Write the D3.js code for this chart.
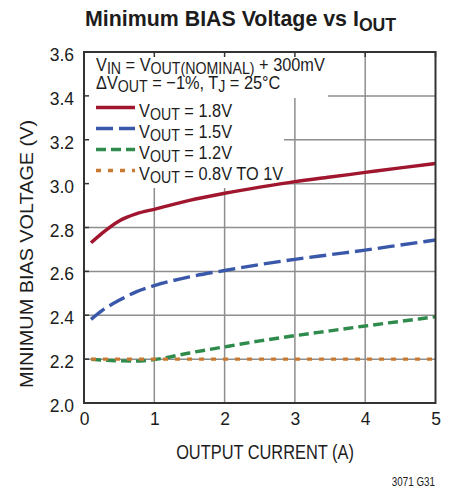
<!DOCTYPE html>
<html>
<head>
<meta charset="utf-8">
<script src="https://cdn.jsdelivr.net/npm/d3@7"></script>
<style>
  body { margin: 0; background: #fff; }
  svg { display: block; }
</style>
</head>
<body>
<svg id="chart" width="467" height="489"></svg>
<script>
// Output current (A) at which each bias voltage was read
const current = [0.1, 0.25, 0.5, 0.75, 1, 1.5, 2, 2.5, 3, 3.5, 4, 4.5, 5];
// Minimum bias voltage (V) for each output voltage setting
const vout18 = [2.73, 2.772, 2.83, 2.863, 2.883, 2.924, 2.956, 2.984, 3.009, 3.03, 3.051, 3.072, 3.092];
const vout15 = [2.381, 2.42, 2.468, 2.508, 2.535, 2.575, 2.604, 2.631, 2.655, 2.676, 2.697, 2.72, 2.743];
const vout12 = [2.199, 2.196, 2.192, 2.191, 2.198, 2.228, 2.256, 2.283, 2.307, 2.329, 2.351, 2.372, 2.393];
const vout08 = [2.2, 2.2, 2.2, 2.2, 2.2, 2.2, 2.2, 2.2, 2.2, 2.2, 2.2, 2.2, 2.2];

const seriesLabels = ["1.8V", "1.5V", "1.2V", "0.8V TO 1V"];
const xTicks = [0, 1, 2, 3, 4, 5];
const yTicks = [2.0, 2.2, 2.4, 2.6, 2.8, 3.0, 3.2, 3.4, 3.6];

const styles = [
  { color: "#a1162f", dash: null },
  { color: "#3a58aa", dash: "17,6" },
  { color: "#2f8b4c", dash: "10,5" },
  { color: "#c97a30", dash: "5,7" }
];
const seriesValues = [vout18, vout15, vout12, vout08];

const svg = d3.select("#chart");
const plotL = 84, plotR = 435.5, plotT = 52, plotB = 403;

const x = d3.scaleLinear().domain([0, 5]).range([plotL, plotR]);
const y = d3.scaleLinear().domain([2.0, 3.6]).range([plotB, plotT]);

const sans = "'Liberation Sans', Arial, sans-serif";
const ink = "#1c1c1c";

// Grid
const grid = svg.append("g").attr("stroke", "#8e8e8e").attr("stroke-width", 1.5);
grid.selectAll("line.h").data(yTicks.slice(1, -1)).join("line")
  .attr("x1", plotL).attr("x2", plotR)
  .attr("y1", d => y(d)).attr("y2", d => y(d));
grid.selectAll("line.v").data(xTicks.slice(1, -1)).join("line")
  .attr("x1", d => x(d)).attr("x2", d => x(d))
  .attr("y1", plotT).attr("y2", plotB);

// White panel behind the conditions and legend
const panel = svg.append("g").attr("fill", "#fff");
panel.append("rect").attr("x", plotL).attr("y", plotT).attr("width", 328 - plotL).attr("height", 98 - plotT);
panel.append("rect").attr("x", plotL).attr("y", 97).attr("width", 284 - plotL).attr("height", 188 - 97);

// Inner tick marks along the frame
const ticks = svg.append("g").attr("stroke", "#333").attr("stroke-width", 1.5);
ticks.selectAll("line.yl").data(yTicks).join("line")
  .attr("x1", plotL).attr("x2", plotL + 5)
  .attr("y1", d => y(d)).attr("y2", d => y(d));
ticks.selectAll("line.xt").data(xTicks).join("line")
  .attr("x1", d => x(d)).attr("x2", d => x(d))
  .attr("y1", plotT).attr("y2", plotT + 5);

// Curves
const line = d3.line()
  .x((d, i) => x(current[i]))
  .y(d => y(d))
  .curve(d3.curveMonotoneX);

svg.append("g").selectAll("path").data(seriesValues).join("path")
  .attr("d", d => line(d))
  .attr("fill", "none")
  .attr("stroke", (d, i) => styles[i].color)
  .attr("stroke-width", 3.4)
  .attr("stroke-dasharray", (d, i) => styles[i].dash);

// Frame
svg.append("rect")
  .attr("x", plotL).attr("y", plotT)
  .attr("width", plotR - plotL).attr("height", plotB - plotT)
  .attr("fill", "none").attr("stroke", "#333").attr("stroke-width", 2);

// Axis tick labels
const yAxis = d3.axisLeft(y).tickValues(yTicks).tickFormat(d3.format(".1f")).tickSize(0).tickPadding(10);
const gy = svg.append("g").attr("transform", `translate(${plotL},3)`).call(yAxis);
gy.select(".domain").remove();
gy.selectAll("text").attr("font-family", sans).attr("font-size", 17.5).attr("fill", ink);

const xAxis = d3.axisBottom(x).tickValues(xTicks).tickFormat(d3.format("d")).tickSize(0).tickPadding(10);
const gx = svg.append("g").attr("transform", `translate(0,${plotB})`).call(xAxis);
gx.select(".domain").remove();
gx.selectAll("text").attr("font-family", sans).attr("font-size", 17.5).attr("fill", ink);

// Helper: condensed text made of runs, some of them subscripts
function richText(g, xPos, yPos, runs, opts) {
  const o = Object.assign({ size: 19, subSize: 16.5, subShift: 3, sx: 0.86, weight: "normal", anchor: "start" }, opts);
  const holder = g.append("g").attr("transform", `translate(${xPos},${yPos}) scale(${o.sx},1)`);
  const t = holder.append("text")
    .attr("x", 0).attr("y", 0)
    .attr("text-anchor", o.anchor)
    .attr("font-family", sans).attr("font-size", o.size)
    .attr("font-weight", o.weight).attr("fill", ink);
  let shifted = false;
  runs.forEach(r => {
    const sp = t.append("tspan").text(r.t);
    if (r.sub) {
      sp.attr("font-size", o.subSize);
      if (!shifted) { sp.attr("dy", o.subShift); shifted = true; }
    } else if (shifted) {
      sp.attr("dy", -o.subShift); shifted = false;
    }
  });
  return t;
}

// Axis titles
richText(svg, 265, 459, [{ t: "OUTPUT CURRENT (A)" }], { size: 20, sx: 0.82, anchor: "middle" });

svg.append("text")
  .attr("transform", "translate(33,254) rotate(-90)")
  .attr("text-anchor", "middle")
  .attr("font-family", sans).attr("font-size", 19).attr("fill", ink)
  .attr("textLength", 268).attr("lengthAdjust", "spacingAndGlyphs")
  .text("MINIMUM BIAS VOLTAGE (V)");

// Title
richText(svg, 85, 26, [
  { t: "Minimum BIAS Voltage vs I" }, { t: "OUT", sub: true }
], { size: 23, subSize: 19, subShift: 5, sx: 0.93, weight: "bold" });

// Test conditions
richText(svg, 96, 71, [
  { t: "V" }, { t: "IN", sub: true }, { t: " = V" }, { t: "OUT(NOMINAL)", sub: true }, { t: " + 300mV" }
]);
richText(svg, 96, 89, [
  { t: "\u0394V" }, { t: "OUT", sub: true }, { t: " = \u22121%, T" }, { t: "J", sub: true }, { t: " = 25\u00b0C" }
]);

// Legend
const legendTop = 117, legendStep = 21;
const legend = svg.append("g");
seriesLabels.forEach((lab, i) => {
  const base = legendTop + i * legendStep;
  legend.append("line")
    .attr("x1", 96).attr("x2", 135)
    .attr("y1", base - 9.5).attr("y2", base - 9.5)
    .attr("stroke", styles[i].color).attr("stroke-width", 3.4)
    .attr("stroke-dasharray", styles[i].dash);
  richText(legend, 139, base, [
    { t: "V" }, { t: "OUT", sub: true }, { t: " = " + lab }
  ]);
});

// Figure reference
richText(svg, 435, 486, [{ t: "3071 G31" }], { size: 12, sx: 0.82, anchor: "end" });
</script>
</body>
</html>
